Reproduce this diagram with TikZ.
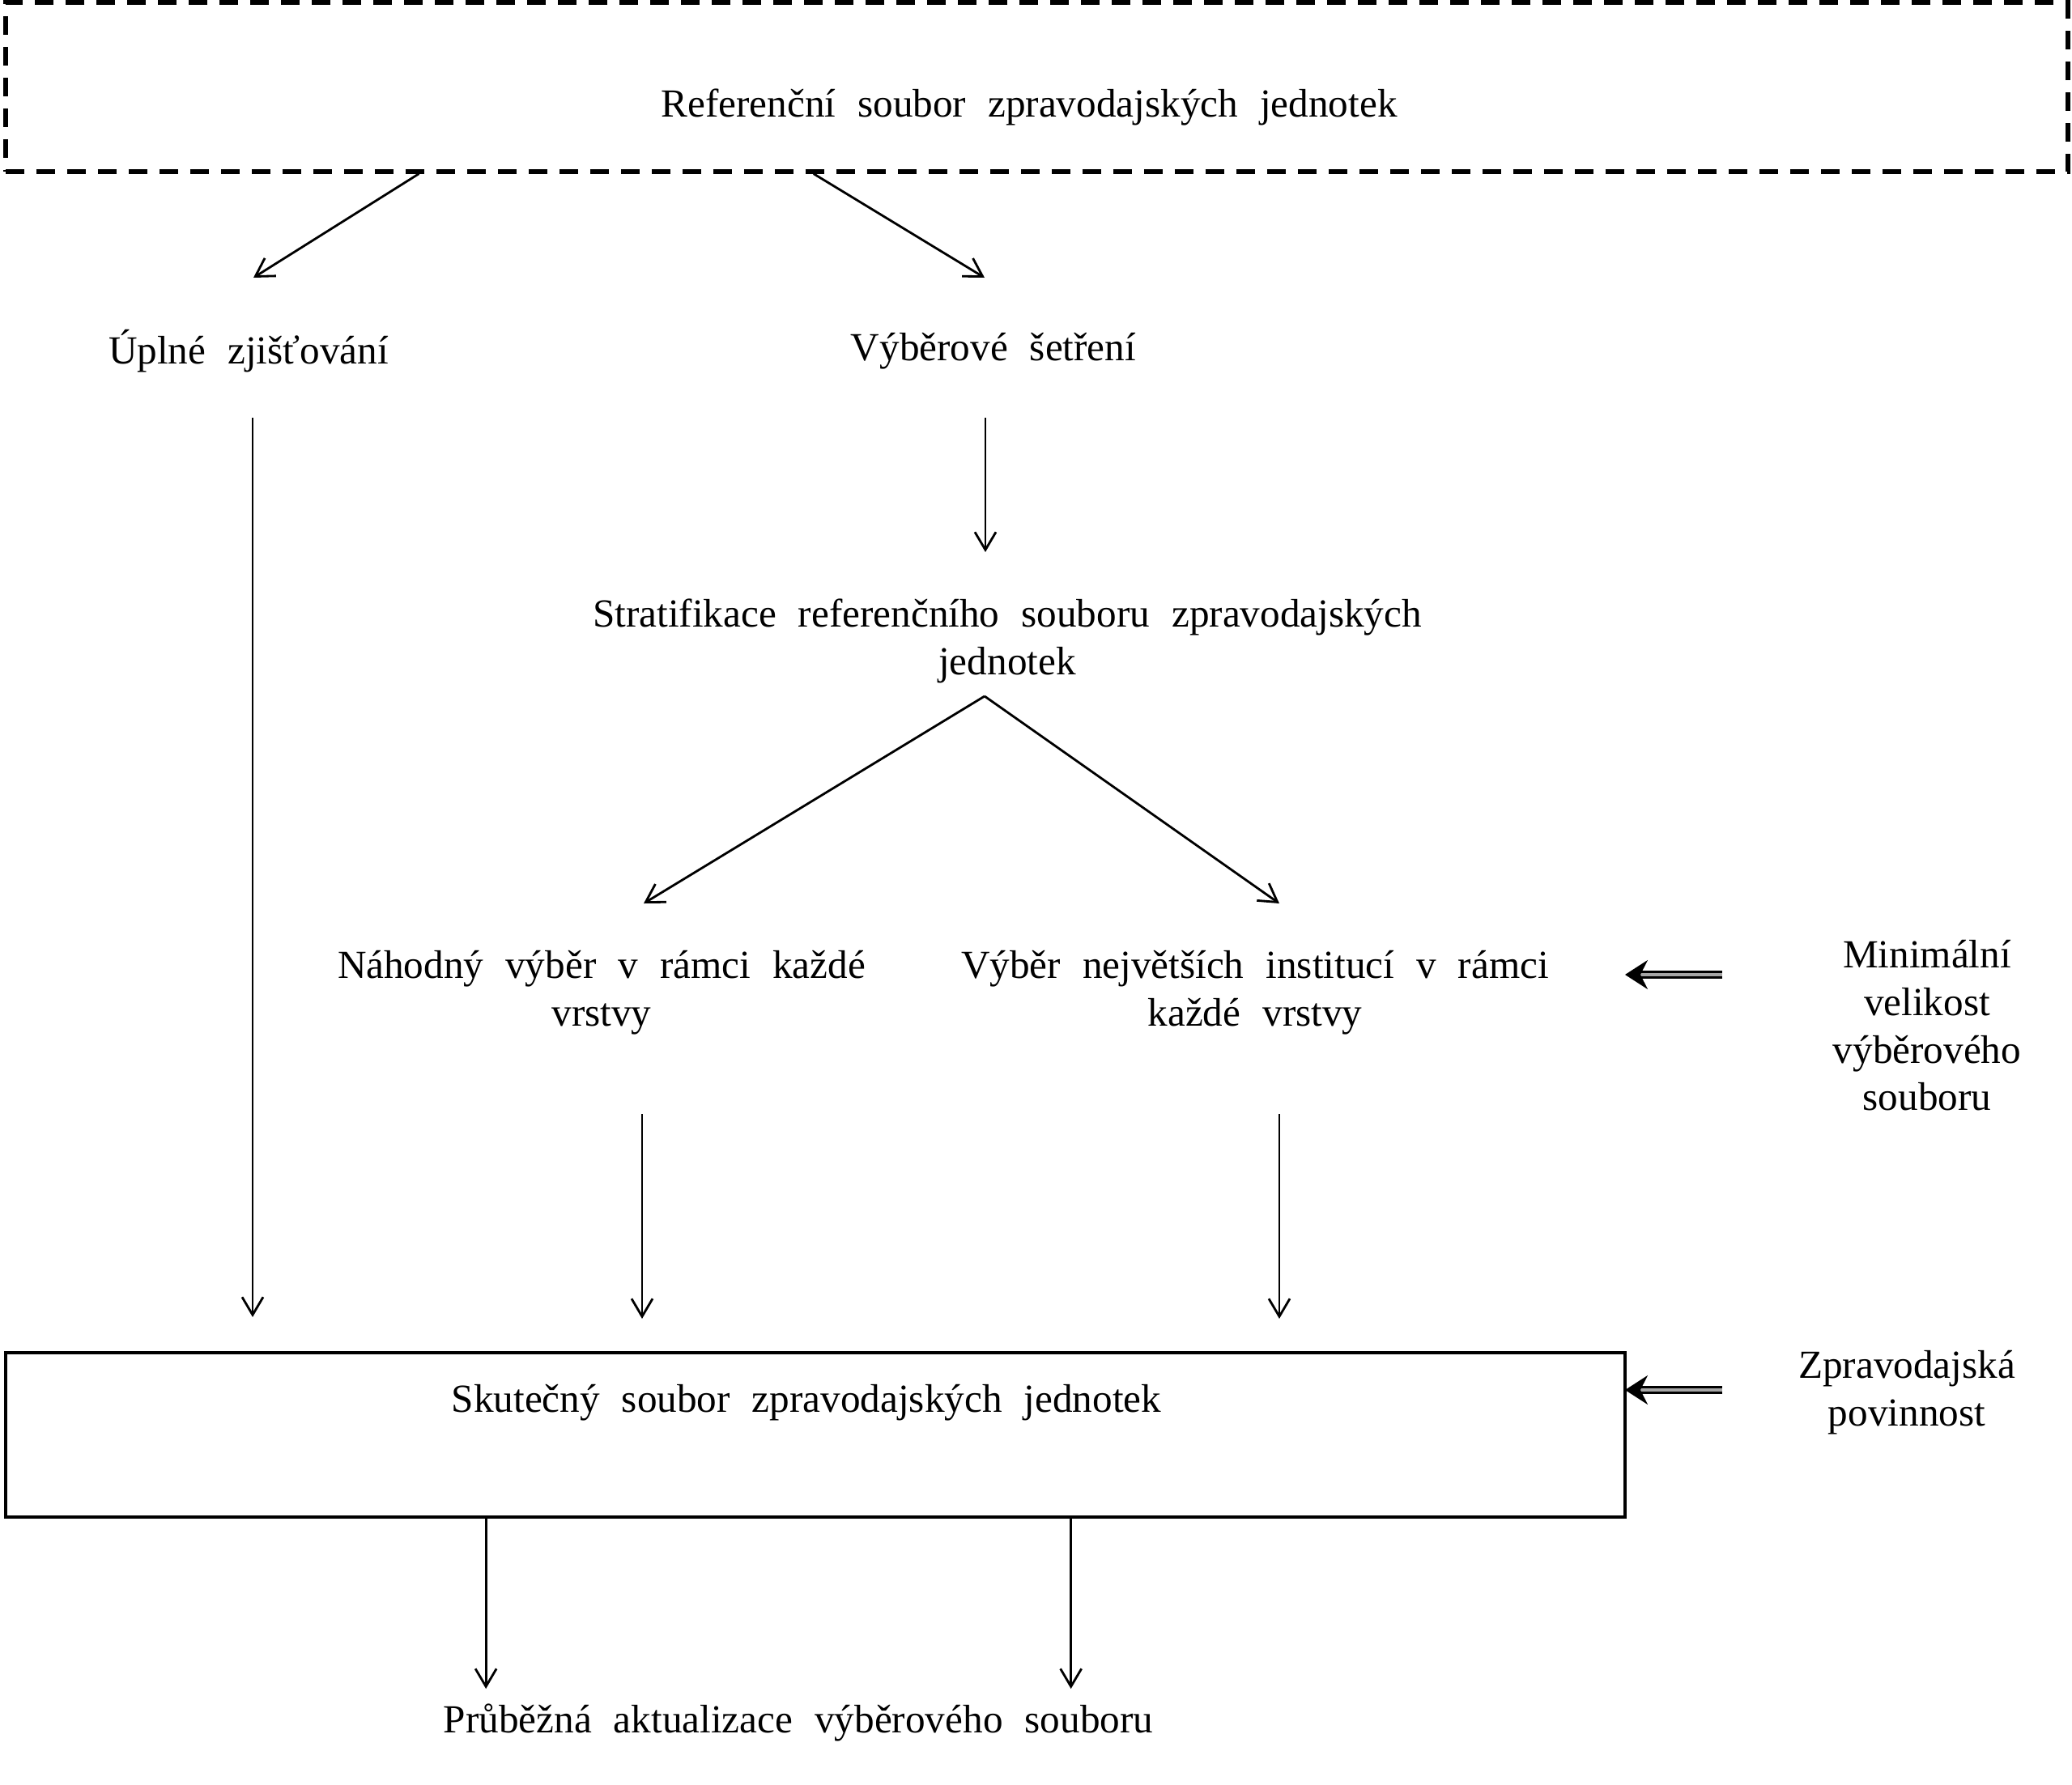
\documentclass[tikz,border=0pt]{standalone}
\usepackage{fontspec}
\setmainfont{Liberation Serif}[WordSpace={2.2,1.2,1}]
\usetikzlibrary{arrows.meta,positioning,calc}
\tikzset{
  txt/.style={align=center,font=\fontsize{14}{16.7}\selectfont,
              inner sep=2pt,yshift=-0.05cm},
  frame/.style={draw,line width=1.2pt,inner sep=0pt},
  dframe/.style={frame,line width=1.5pt,dash pattern=on 0.23cm off 0.15cm},
  ar/.style={-{Straight Barb[length=2.2mm,width=2.6mm]},line width=0.8pt},
  dbl/.style={-{Stealth[length=2.8mm,width=3.6mm]},line width=0.8pt,
              double=black!35,double distance=1.4pt}
}
\begin{document}
\begin{tikzpicture}
  \useasboundingbox (0,0) rectangle (25.59,-22.05);
  % horni ramec
  \node[dframe,minimum width=25.47cm,minimum height=2.09cm] (ref) at (12.805,-1.075) {};
  \node[txt] (reft) at (12.71,-1.27) {Referenční soubor zpravodajských jednotek};

  \node[txt] (upl) at (3.07,-4.29) {Úplné zjišťování};
  \node[txt] (vyber) at (12.27,-4.29) {Výběrové šetření};
  \node[txt] (strat) at (12.44,-7.87) {Stratifikace referenčního souboru zpravodajských\\jednotek};
  \node[txt] (nah) at (7.43,-12.21) {Náhodný výběr v rámci každé\\vrstvy};
  \node[txt] (nej) at (15.50,-12.21) {Výběr největších institucí v rámci\\každé vrstvy};
  \node[txt] (minv) at (23.80,-12.62) {Minimální\\velikost\\výběrového\\souboru};

  % skutecny soubor
  \node[frame,minimum width=20cm,minimum height=2.03cm] (skut) at (10.07,-17.725) {};
  \node[txt] (skutt) at (9.96,-17.28) {Skutečný soubor zpravodajských jednotek};
  \node[txt] (zprav) at (23.55,-17.15) {Zpravodajská\\povinnost};
  \node[txt] (prub) at (9.86,-21.23) {Průběžná aktualizace výběrového souboru};

  \draw[ar] ($(ref.south west)!0.201!(ref.south east)$) -- ([shift={(0.06,0.91)}]upl.center);
  \draw[ar] ($(ref.south west)!0.392!(ref.south east)$) -- ([shift={(-0.11,0.91)}]vyber.center);
  \draw[ar] ([shift={(0.05,-0.82)}]upl.center) -- ++(0,-11.11);
  \draw[ar] ([shift={(-0.10,-0.82)}]vyber.center) -- ++(0,-1.66);
  \coordinate (sp) at ([shift={(-0.28,-0.68)}]strat.center);
  \draw[ar] (sp) -- ([shift={(0.52,1.10)}]nah.center);
  \draw[ar] (sp) -- ([shift={(0.30,1.10)}]nej.center);
  \draw[ar] ([shift={(0.50,-1.50)}]nah.center) -- ++(0,-2.53);
  \draw[ar] ([shift={(0.30,-1.50)}]nej.center) -- ++(0,-2.53);
  \draw[ar] ($(skut.south west)!0.297!(skut.south east)$) -- ++(0,-2.10);
  \draw[ar] ($(skut.south west)!0.6575!(skut.south east)$) -- ++(0,-2.10);

  \draw[dbl] ([shift={(-2.53,0.63)}]minv.center) -- ++(-1.2,0);
  \draw[dbl] ([shift={(-2.28,0.03)}]zprav.center) -- ++(-1.2,0);
\end{tikzpicture}
\end{document}
